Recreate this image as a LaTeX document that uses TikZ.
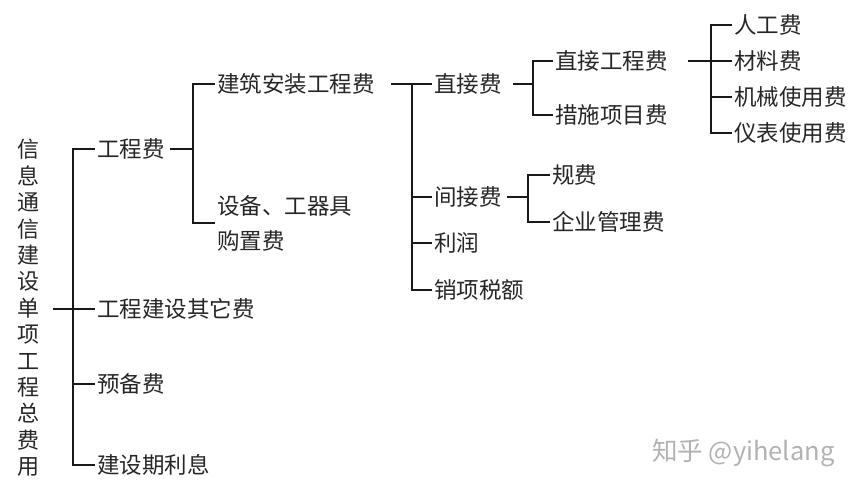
\documentclass[tikz,border=0pt]{standalone}
\usepackage{fontspec}
\setmainfont{Noto Sans CJK SC}
\begin{document}
\begin{tikzpicture}[x=1pt,y=-1pt,
  lbl/.style={anchor=west,inner xsep=2pt,inner ysep=0pt,font=\fontsize{22.5}{22.5}\selectfont,text=black!85},
  conn/.style={line width=1.7pt,black!90},
  wm/.style={anchor=west,inner sep=0pt,font=\fontsize{25.5}{25.5}\selectfont,text=black!30}]
\useasboundingbox (0,0) rectangle (859,490);
% root
\node[inner sep=0pt,align=center,text=black!85,font=\fontsize{22}{26.4}\selectfont] (root) at (28,308)
  {信\\息\\通\\信\\建\\设\\单\\项\\工\\程\\总\\费\\用};
% level 1
\node[lbl] (gcf) at (95,149) {工程费};
\node[lbl] (qtf) at (95,309) {工程建设其它费};
\node[lbl] (ybf) at (95,384) {预备费};
\node[lbl] (lxf) at (95,465) {建设期利息};
% level 2
\node[lbl] (jaf) at (215,84) {建筑安装工程费};
\node[lbl,align=left,font=\fontsize{22.5}{35}\selectfont] (sbf) at (215,223) {设备、工器具\\购置费};
% level 3
\node[lbl] (zjf) at (432,84) {直接费};
\node[lbl] (jjf) at (432,197) {间接费};
\node[lbl] (lr) at (432,243) {利润};
\node[lbl] (xs) at (432,290) {销项税额};
% level 4
\node[lbl] (zjgc) at (553,61) {直接工程费};
\node[lbl] (csxm) at (553,115) {措施项目费};
\node[lbl] (gf) at (550,175) {规费};
\node[lbl] (qygl) at (550,222) {企业管理费};
% level 5
\node[lbl] (rgf) at (732,25) {人工费};
\node[lbl] (clf) at (732,61) {材料费};
\node[lbl] (jxf) at (732,97) {机械使用费};
\node[lbl] (ybsy) at (732,133) {仪表使用费};
% watermark
\node[wm] (wmk) at (652,453) {知乎 @yihelang};
% bracket points
\coordinate (b0) at (73,309);
\coordinate (b1) at (193,149);
\coordinate (b2) at (412,84);
\coordinate (b3) at (533,84);
\coordinate (b4) at (711,61);
\coordinate (b5) at (528,197);
% connectors
\draw[conn] ([xshift=14pt]root.east |- b0) -- (b0);
\foreach \c in {gcf,qtf,ybf,lxf} \draw[conn] (b0) |- (\c.west);
\draw[conn] ([xshift=3.5pt]gcf.east) -- (b1);
\foreach \c in {jaf,sbf} \draw[conn] (b1) |- (\c.west);
\draw[conn] ([xshift=14pt]jaf.east) -- (b2);
\foreach \c in {zjf,jjf,lr,xs} \draw[conn] (b2) |- (\c.west);
\draw[conn] ([xshift=9pt]zjf.east) -- (b3);
\foreach \c in {zjgc,csxm} \draw[conn] (b3) |- (\c.west);
\draw[conn] ([xshift=18pt]zjgc.east) -- (b4);
\foreach \c in {rgf,clf,jxf,ybsy} \draw[conn] (b4) |- (\c.west);
\draw[conn] ([xshift=3.5pt]jjf.east) -- (b5);
\foreach \c in {gf,qygl} \draw[conn] (b5) |- (\c.west);
\end{tikzpicture}
\end{document}
